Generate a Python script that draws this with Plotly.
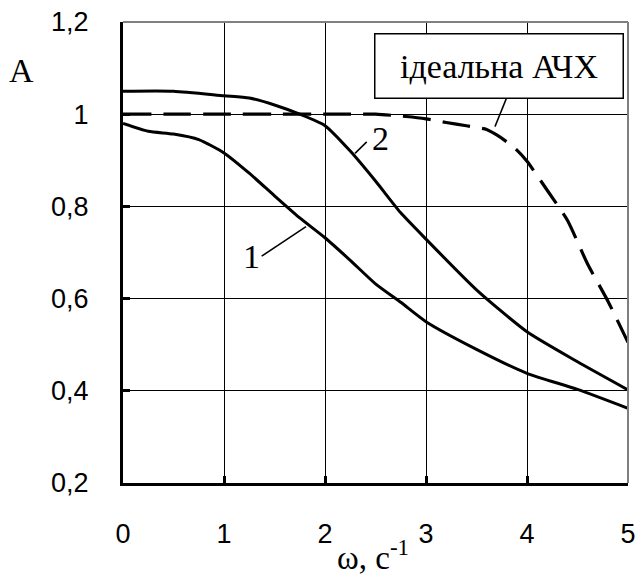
import plotly.graph_objects as go

# Frequency grid and amplitude responses
omega_1 = [0, 0.25, 0.5, 0.75, 1, 1.25, 1.5, 1.75, 2, 2.25, 2.5, 2.75, 3, 3.5, 4, 4.5, 5]
amp_1 = [0.98, 0.963, 0.957, 0.945, 0.916, 0.872, 0.823, 0.775, 0.732, 0.683, 0.632, 0.592,
         0.55, 0.49, 0.438, 0.403, 0.362]

omega_2 = [0, 0.5, 1, 1.25, 1.5, 1.75, 2, 2.25, 2.5, 2.75, 3, 3.5, 4, 4.5, 5]
amp_2 = [1.05, 1.05, 1.04, 1.035, 1.02, 1.0, 0.975, 0.92, 0.855, 0.786, 0.729, 0.619,
         0.528, 0.463, 0.402]

omega_ideal = [0, 0.5, 1, 1.5, 2, 2.5, 2.8, 3, 3.2, 3.4, 3.6, 3.7, 3.8, 3.9, 4, 4.2, 4.4,
               4.6, 4.8, 5]
amp_ideal = [1, 1, 1, 1, 1, 1, 0.995, 0.99, 0.982, 0.975, 0.967, 0.955, 0.94, 0.922,
             0.898, 0.835, 0.77, 0.675, 0.595, 0.505]

x_ticks = [0, 1, 2, 3, 4, 5]
x_tick_text = ["0", "1", "2", "3", "4", "5"]
y_ticks = [0.2, 0.4, 0.6, 0.8, 1.0, 1.2]
y_tick_text = ["0,2", "0,4", "0,6", "0,8", "1", "1,2"]

SERIF = "Liberation Serif, Times New Roman, serif"
SANS = "Liberation Sans, Arial, sans-serif"

W, H = 640, 580
L, R, T, B = 123, 12, 22, 97
pw, ph = W - L - R, H - T - B


def paper_x(px):
    return (px - L) / pw


def paper_y(py):
    return 1 - (py - T) / ph


fig = go.Figure()
fig.add_trace(go.Scatter(x=omega_1, y=amp_1, mode="lines",
                         line=dict(color="black", width=3, shape="spline", smoothing=0.6)))
fig.add_trace(go.Scatter(x=omega_2, y=amp_2, mode="lines",
                         line=dict(color="black", width=3, shape="spline", smoothing=0.6)))
fig.add_trace(go.Scatter(x=omega_ideal, y=amp_ideal, mode="lines",
                         line=dict(color="black", width=3.2, dash="28px,12px",
                                   shape="spline", smoothing=0.6)))

# Leader lines from curve labels to curves
leaders = [
    ((1.373, 0.692), (1.812, 0.756)),
    ((2.413, 0.940), (2.297, 0.915)),
    ((3.799, 1.036), (3.683, 0.973)),
]
for (x0, y0), (x1, y1) in leaders:
    fig.add_shape(type="line", x0=x0, y0=y0, x1=x1, y1=y1, xref="x", yref="y",
                  line=dict(color="black", width=1.5))

# Gray top and right frame
fig.add_shape(type="line", xref="paper", yref="paper", x0=0, x1=1, y0=1, y1=1,
              line=dict(color="#808080", width=2), layer="above")
fig.add_shape(type="line", xref="paper", yref="paper", x0=1, x1=1, y0=0, y1=1,
              line=dict(color="#808080", width=2), layer="above")

fig.add_annotation(x=1.277, y=0.692, text="1", showarrow=False, xref="x", yref="y",
                   xanchor="center", yanchor="middle",
                   font=dict(family=SERIF, size=34, color="black"))
fig.add_annotation(x=2.55, y=0.948, text="2", showarrow=False, xref="x", yref="y",
                   xanchor="center", yanchor="middle",
                   font=dict(family=SERIF, size=34, color="black"))
fig.add_annotation(x=3.727, y=1.1046, text="ідеальна АЧХ", showarrow=False,
                   xref="x", yref="y", xanchor="center", yanchor="middle",
                   width=247, height=63, borderpad=0,
                   bordercolor="black", borderwidth=1.5, bgcolor="white",
                   font=dict(family=SERIF, size=34, color="black"))
fig.add_annotation(x=paper_x(21), y=paper_y(70), xref="paper", yref="paper", text="A",
                   showarrow=False, xanchor="center", yanchor="middle",
                   font=dict(family=SERIF, size=34, color="black"))
fig.add_annotation(x=paper_x(373), y=paper_y(578), xref="paper", yref="paper",
                   text="ω, с<sup>-1</sup>", showarrow=False,
                   xanchor="center", yanchor="bottom",
                   font=dict(family=SERIF, size=33, color="black"))

fig.update_layout(
    width=W, height=H,
    margin=dict(l=L, r=R, t=T, b=B, pad=0, autoexpand=False),
    paper_bgcolor="white", plot_bgcolor="white",
    showlegend=False,
    xaxis=dict(range=[0, 5], tickvals=x_ticks, ticktext=x_tick_text,
               showgrid=True, gridcolor="black", gridwidth=1.2,
               showline=True, linecolor="black", linewidth=3,
               ticks="inside", ticklen=7, tickwidth=3, tickcolor="black",
               ticklabelstandoff=25, zeroline=False, automargin=False,
               tickfont=dict(family=SANS, size=27, color="black")),
    yaxis=dict(range=[0.2, 1.2], tickvals=y_ticks, ticktext=y_tick_text,
               showgrid=True, gridcolor="black", gridwidth=1.2,
               showline=True, linecolor="black", linewidth=3,
               ticks="inside", ticklen=7, tickwidth=3, tickcolor="black",
               ticklabelstandoff=26, zeroline=False, automargin=False,
               tickfont=dict(family=SANS, size=27, color="black")),
)

fig.write_html("out.html")
